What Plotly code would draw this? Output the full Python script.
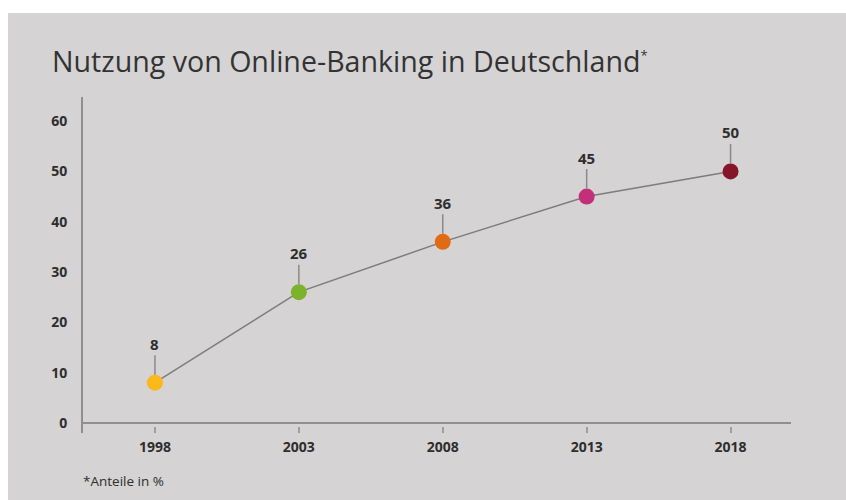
import plotly.graph_objects as go

years = [1998, 2003, 2008, 2013, 2018]
values = [8, 26, 36, 45, 50]
labels = ["8", "26", "36", "45", "50"]
colors = ["#fbb81b", "#7cb22c", "#e06b14", "#c3307a", "#86152a"]
y_ticks = [0, 10, 20, 30, 40, 50, 60]

title = ("Nutzung von Online-Banking in Deutschland"
         "<sup><span style='font-size:13px'>*</span></sup>")
footnote = "*Anteile in %"

FONT = "Open Sans"
TEXT = "#2e2e2e"
AXIS = "#8f8f8f"
BG = "#d5d3d3"

fig = go.Figure()
fig.add_trace(go.Scatter(
    x=years, y=values, mode="lines+markers",
    line=dict(color="#7d7d7d", width=1.5),
    marker=dict(size=16, color=colors, line=dict(width=0)),
    hoverinfo="skip", showlegend=False,
))

for x, y, t in zip(years, values, labels):
    fig.add_annotation(
        x=x, y=y, text="<b>%s</b>" % t, showarrow=True,
        ax=0, ay=-39, arrowhead=0, arrowwidth=1.5, arrowcolor="#8a8a8a",
        standoff=8, font=dict(family=FONT, size=15, color=TEXT),
    )

# plot area: x 83..791 px, y 97..433 px
W, H = 708.0, 336.0
fig.add_shape(type="rect", xref="paper", yref="paper",
              x0=(8 - 83) / W, x1=(846 - 83) / W,
              y0=(433 - 500) / H, y1=(433 - 13) / H,
              fillcolor=BG, line=dict(width=0), layer="below")

fig.add_annotation(xref="paper", yref="paper",
                   x=(81 - 83) / W, y=(433 - 481) / H,
                   xanchor="left", yanchor="middle", showarrow=False,
                   text=footnote, font=dict(family=FONT, size=13.5, color=TEXT))

fig.update_layout(
    width=846, height=500,
    margin=dict(l=83, r=55, t=97, b=67),
    paper_bgcolor="white", plot_bgcolor="rgba(0,0,0,0)",
    title=dict(text=title, x=52 / 846, xanchor="left", xref="container",
               y=1 - 62 / 500, yanchor="middle", yref="container",
               font=dict(family=FONT, size=28.6, color="#333333")),
    xaxis=dict(range=[1995.5, 2020.1], tickvals=years,
               ticktext=["<b>%d</b>" % y for y in years],
               showgrid=False, zeroline=False, showline=False,
               ticks="inside", ticklen=6, tickwidth=1.5, tickcolor="#a0a0a0",
               ticklabelstandoff=4,
               tickfont=dict(family=FONT, size=14, color=TEXT)),
    yaxis=dict(range=[-2, 64.8], tickvals=y_ticks,
               ticktext=["<b>%d</b>" % v for v in y_ticks],
               showgrid=False, zeroline=True, zerolinecolor=AXIS, zerolinewidth=2,
               showline=True, linecolor=AXIS, linewidth=2,
               ticks="", ticklabelstandoff=11,
               tickfont=dict(family=FONT, size=14, color=TEXT)),
)

fig.write_html("out.html")
